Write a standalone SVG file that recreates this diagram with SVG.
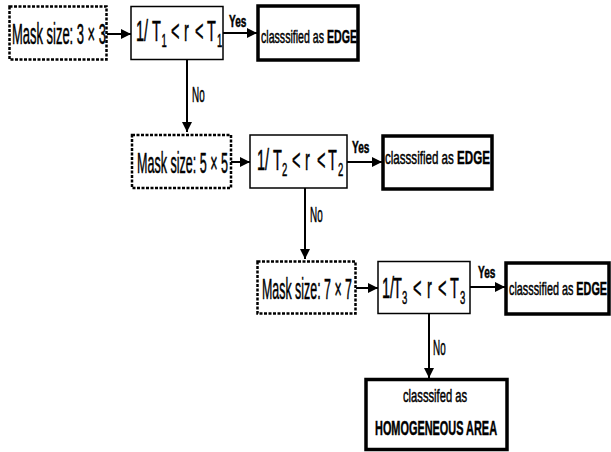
<svg xmlns="http://www.w3.org/2000/svg" width="611" height="452" viewBox="0 0 611 452">
<style>
text{font-family:"Liberation Sans",Arial,sans-serif;fill:#000;stroke:#000;stroke-width:0.5}
.mask{fill:#fff;stroke:#000;stroke-width:2.5;stroke-dasharray:3 1.5}
.dec{fill:#fff;stroke:#000;stroke-width:1.5}
.res{fill:#fff;stroke:#000;stroke-width:3.5}
.big{font-size:29px}
.mid{font-size:29px}
.sub{font-size:19px}
.sm{font-size:19px}
.lbl{font-size:16px;font-weight:bold}
.no{font-size:22px}
.b{font-weight:bold}
.ln{stroke:#000;stroke-width:2;fill:none}
</style>
<defs>
<marker id="ah" viewBox="0 0 10 10" refX="10" refY="5" markerWidth="5" markerHeight="5" orient="auto" markerUnits="strokeWidth">
<path d="M0,0L10,5L0,10z" fill="#000"/>
</marker>
</defs>
<g id="connectors">
<line class="ln" x1="107" y1="34" x2="131" y2="34" marker-end="url(#ah)"/>
<line class="ln" x1="223" y1="33" x2="257" y2="33" marker-end="url(#ah)"/>
<line class="ln" x1="187" y1="60" x2="187" y2="132" marker-end="url(#ah)"/>
<line class="ln" x1="231" y1="162" x2="250" y2="162" marker-end="url(#ah)"/>
<line class="ln" x1="347" y1="162" x2="382" y2="162" marker-end="url(#ah)"/>
<line class="ln" x1="305" y1="188" x2="305" y2="259" marker-end="url(#ah)"/>
<line class="ln" x1="356" y1="288" x2="378" y2="288" marker-end="url(#ah)"/>
<line class="ln" x1="470" y1="287" x2="505" y2="287" marker-end="url(#ah)"/>
<line class="ln" x1="429" y1="314" x2="429" y2="378" marker-end="url(#ah)"/>
<text class="lbl" transform="translate(229,27) scale(0.63,1)">Yes</text>
<text class="no" transform="translate(192,102) scale(0.45,1)">No</text>
<text class="lbl" transform="translate(352,153) scale(0.63,1)">Yes</text>
<text class="no" transform="translate(310,222) scale(0.45,1)">No</text>
<text class="lbl" transform="translate(478,278) scale(0.63,1)">Yes</text>
<text class="no" transform="translate(433,355) scale(0.45,1)">No</text>
</g>
<g id="mask1">
<rect class="mask" x="9.5" y="6.5" width="97" height="53"/>
<text class="big" transform="translate(12,44) scale(0.447,1)">Mask size: 3 × 3</text>
</g>
<g id="decision1">
<rect class="dec" x="131" y="6.5" width="92" height="53"/>
<text class="mid" transform="translate(136,41) scale(0.5,1)"><tspan x="0">1/</tspan><tspan x="32">T</tspan><tspan class="sub" x="51" dy="6">1</tspan><tspan x="70" dy="-6">&lt;</tspan><tspan x="96">r</tspan><tspan x="118">&lt;</tspan><tspan x="142">T</tspan><tspan class="sub" x="162" dy="6">1</tspan></text>
</g>
<g id="edge1">
<rect class="res" x="258" y="6" width="100" height="54"/>
<text class="sm" transform="translate(261,43) scale(0.558,1)">classsified as <tspan class="b">EDGE</tspan></text>
</g>
<g id="mask2">
<rect class="mask" x="132" y="135" width="99" height="53"/>
<text class="big" transform="translate(137,173) scale(0.433,1)">Mask size: 5 × 5</text>
</g>
<g id="decision2">
<rect class="dec" x="250" y="135" width="97" height="53"/>
<text class="mid" transform="translate(257,170) scale(0.5,1)"><tspan x="0">1/</tspan><tspan x="32">T</tspan><tspan class="sub" x="50" dy="6">2</tspan><tspan x="70" dy="-6">&lt;</tspan><tspan x="96">r</tspan><tspan x="120">&lt;</tspan><tspan x="142">T</tspan><tspan class="sub" x="162" dy="6">2</tspan></text>
</g>
<g id="edge2">
<rect class="res" x="383" y="136" width="109" height="53"/>
<text class="sm" transform="translate(385,164) scale(0.61,1)">classsified as <tspan class="b">EDGE</tspan></text>
</g>
<g id="mask3">
<rect class="mask" x="257.5" y="261.5" width="98" height="52"/>
<text class="big" transform="translate(262,299) scale(0.428,1)">Mask size: 7 × 7</text>
</g>
<g id="decision3">
<rect class="dec" x="378" y="261.5" width="92" height="52"/>
<text class="mid" transform="translate(382,298) scale(0.5,1)"><tspan x="0">1/</tspan><tspan x="22">T</tspan><tspan class="sub" x="40" dy="6">3</tspan><tspan x="62" dy="-6">&lt;</tspan><tspan x="90">r</tspan><tspan x="112">&lt;</tspan><tspan x="136">T</tspan><tspan class="sub" x="156" dy="6">3</tspan></text>
</g>
<g id="edge3">
<rect class="res" x="506" y="263" width="103" height="51"/>
<text class="sm" transform="translate(509,295) scale(0.57,1)">classsified as <tspan class="b">EDGE</tspan></text>
</g>
<g id="homogeneous">
<rect class="res" x="366" y="379.5" width="141" height="70"/>
<text class="sm" transform="translate(403,402) scale(0.59,1)">classsifed as</text>
<text class="sm b" style="font-size:21px" transform="translate(375,435) scale(0.52,1)">HOMOGENEOUS AREA</text>
</g>
</svg>
